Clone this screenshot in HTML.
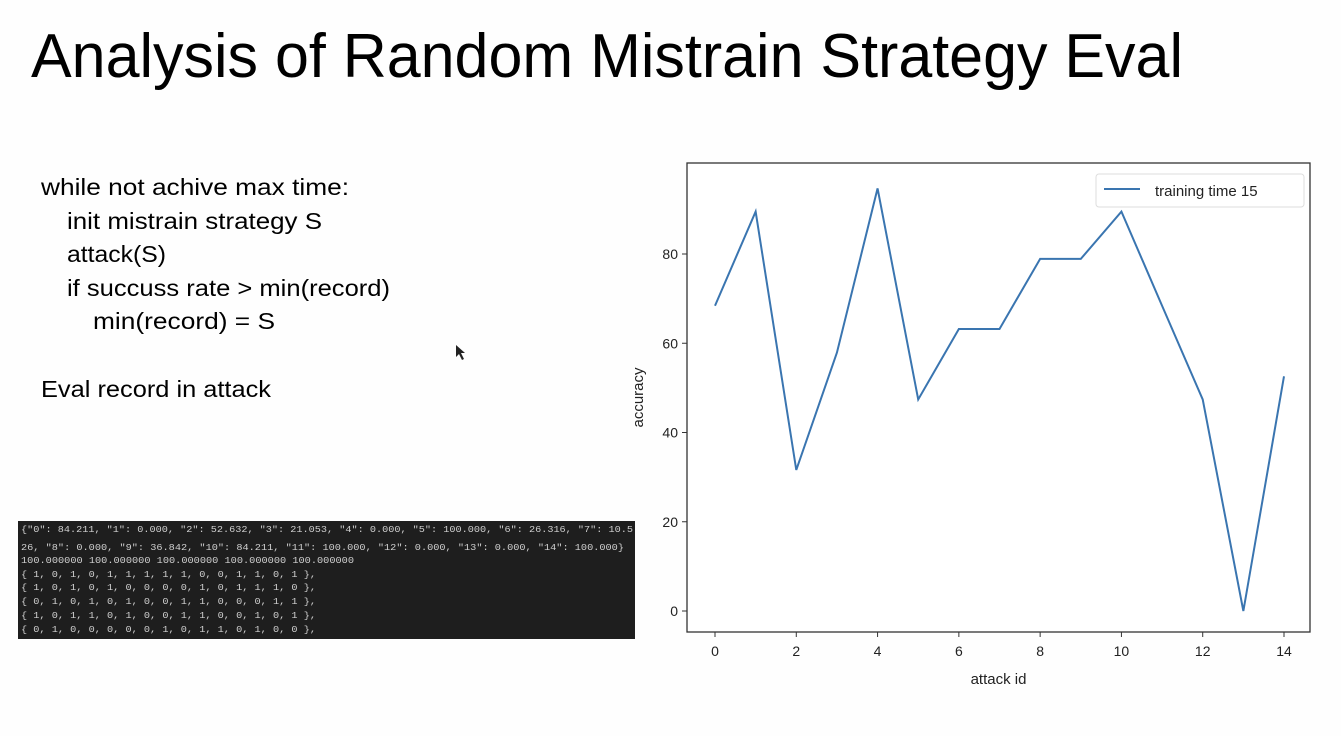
<!DOCTYPE html>
<html><head><meta charset="utf-8">
<style>
body{margin:0;width:1341px;height:736px;background:#fefefe;overflow:hidden;position:relative;font-family:"Liberation Sans",sans-serif}
svg{position:absolute;left:0;top:0}
</style></head>
<body>
<svg width="1341" height="736">
  <text x="31" y="77" font-size="62" textLength="1152" lengthAdjust="spacingAndGlyphs" fill="#000">Analysis of Random Mistrain Strategy Eval</text>
  <g font-size="23" fill="#000">
    <text x="41" y="195" textLength="308" lengthAdjust="spacingAndGlyphs">while not achive max time:</text>
    <text x="67" y="229" textLength="255" lengthAdjust="spacingAndGlyphs">init mistrain strategy S</text>
    <text x="67" y="262" textLength="99" lengthAdjust="spacingAndGlyphs">attack(S)</text>
    <text x="67" y="296" textLength="323" lengthAdjust="spacingAndGlyphs">if succuss rate &gt; min(record)</text>
    <text x="93" y="329" textLength="182" lengthAdjust="spacingAndGlyphs">min(record) =  S</text>
    <text x="41" y="397" textLength="230" lengthAdjust="spacingAndGlyphs">Eval record in attack</text>
  </g>
  <path d="M456 345 L456 357 L459 354 L462 360 L464 359 L461 353 L465 353 Z" fill="#222"/>
  <g>
    <rect x="18" y="521" width="617" height="118" fill="#1e1e1e"/>
    <g font-family="Liberation Mono,monospace" font-size="9.6" fill="#cfcfcf">
      <text x="21" y="532" textLength="612" lengthAdjust="spacingAndGlyphs">{"0": 84.211, "1": 0.000, "2": 52.632, "3": 21.053, "4": 0.000, "5": 100.000, "6": 26.316, "7": 10.5</text>
      <text x="21" y="550" textLength="603" lengthAdjust="spacingAndGlyphs">26, "8": 0.000, "9": 36.842, "10": 84.211, "11": 100.000, "12": 0.000, "13": 0.000, "14": 100.000}</text>
      <text x="21" y="563" textLength="333" lengthAdjust="spacingAndGlyphs">100.000000 100.000000 100.000000 100.000000 100.000000</text>
      <text x="21" y="577" textLength="295" lengthAdjust="spacingAndGlyphs">{ 1, 0, 1, 0, 1, 1, 1, 1, 1, 0, 0, 1, 1, 0, 1 },</text>
      <text x="21" y="590" textLength="295" lengthAdjust="spacingAndGlyphs">{ 1, 0, 1, 0, 1, 0, 0, 0, 0, 1, 0, 1, 1, 1, 0 },</text>
      <text x="21" y="604" textLength="295" lengthAdjust="spacingAndGlyphs">{ 0, 1, 0, 1, 0, 1, 0, 0, 1, 1, 0, 0, 0, 1, 1 },</text>
      <text x="21" y="618" textLength="295" lengthAdjust="spacingAndGlyphs">{ 1, 0, 1, 1, 0, 1, 0, 0, 1, 1, 0, 0, 1, 0, 1 },</text>
      <text x="21" y="632" textLength="295" lengthAdjust="spacingAndGlyphs">{ 0, 1, 0, 0, 0, 0, 0, 1, 0, 1, 1, 0, 1, 0, 0 },</text>
    </g>
  </g>
  <g id="chart"></g>
</svg>
<script>
const attackIds=[0,1,2,3,4,5,6,7,8,9,10,11,12,13,14];
const accuracy=[68.4,89.5,31.6,57.9,94.7,47.4,63.2,63.2,78.9,78.9,89.5,68.4,47.4,0,52.6];
const xTicks=[0,2,4,6,8,10,12,14];
const yTicks=[0,20,40,60,80];
const seriesLabel="training time 15";

const NS="http://www.w3.org/2000/svg";
const g=document.getElementById('chart');
const L=687,R=1310,T=163,B=632;
const x=v=>715+(v-0)*(1284-715)/14;
const y=v=>611-v*(611-254)/80;
function mk(tag,attrs,parent){const e=document.createElementNS(NS,tag);for(const k in attrs)e.setAttribute(k,attrs[k]);(parent||g).appendChild(e);return e;}

const frame=mk('rect',{x:L,y:T,width:R-L,height:B-T,fill:'#fff',stroke:'#333','stroke-width':1.3});



xTicks.forEach(t=>{
  const tk=mk('line',{x1:x(t),x2:x(t),y1:B,y2:B+5,stroke:'#333'});
  
  
  const tl=mk('text',{x:x(t),y:B+24,'font-size':14,'text-anchor':'middle',fill:'#222'});
  tl.textContent=t;
  
  
});
yTicks.forEach(t=>{
  const tk=mk('line',{x1:L-5,x2:L,y1:y(t),y2:y(t),stroke:'#333'});
  
  
  const tl=mk('text',{x:L-9,y:y(t)+5,'font-size':14,'text-anchor':'end',fill:'#222'});
  tl.textContent=t;
  
  
});
const xt=mk('text',{x:(L+R)/2,y:684,'font-size':15,'text-anchor':'middle',fill:'#222'});
xt.textContent='attack id';


const yt=mk('text',{x:0,y:0,'font-size':15,'text-anchor':'middle',fill:'#222',transform:`translate(643,${(T+B)/2}) rotate(-90)`});
yt.textContent='accuracy';



const pts=attackIds.map((a,i)=>x(a)+','+y(accuracy[i])).join(' ');
const line=mk('polyline',{points:pts,fill:'none',stroke:'#3a75b0','stroke-width':2});



const lg=mk('g',{});


mk('rect',{x:1096,y:174,width:208,height:33,rx:3,fill:'#fff',stroke:'#ddd'},lg);
mk('line',{x1:1104,x2:1140,y1:189,y2:189,stroke:'#3a75b0','stroke-width':2},lg);
const lt=mk('text',{x:1155,y:196,'font-size':15,fill:'#222'},lg);
lt.textContent=seriesLabel;


</script>
</body></html>
